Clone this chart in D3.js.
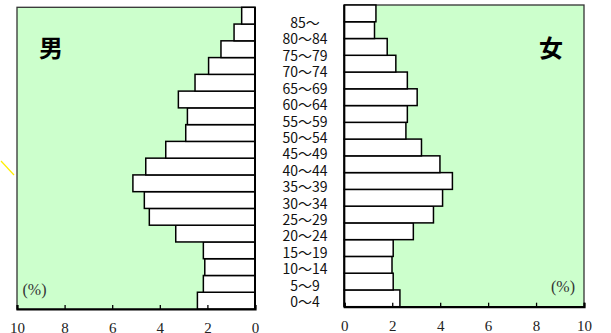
<!DOCTYPE html>
<html><head><meta charset="utf-8">
<script src="https://cdn.jsdelivr.net/npm/d3@7"></script>
<style>body{margin:0;background:#fff}svg{display:block}</style>
</head><body>
<svg id="c" width="611" height="333"></svg>
<script>
const ages = ["0～4","5～9","10～14","15～19","20～24","25～29","30～34","35～39","40～44","45～49","50～54","55～59","60～64","65～69","70～74","75～79","80～84","85～"];
const male = [2.42,2.17,2.11,2.17,3.33,4.44,4.65,5.13,4.59,3.75,2.91,2.84,3.22,2.52,1.95,1.43,0.88,0.56];
const female = [2.32,2.04,1.99,2.04,2.88,3.72,4.10,4.51,3.99,3.22,2.57,2.63,3.04,2.63,2.15,1.79,1.26,1.32];
const tickValues = [0,2,4,6,8,10];

const svg = d3.select("#c");
const green = "#ccffcc";
const serif = "'Liberation Serif','DejaVu Serif',serif";

// decorative yellow stroke
svg.append("line").attr("x1",1).attr("y1",161).attr("x2",14).attr("y2",175)
  .attr("stroke","#ffee00").attr("stroke-width",1.2);

function panel(opts){
  const {x0,x1,y0,y1,values,flip,label,labelX,pctX,pctY,tickBase} = opts;
  const x = d3.scaleLinear().domain(flip?[10,0]:[0,10]).range([x0,x1]);
  const y = d3.scaleBand().domain(ages.slice().reverse()).range([y0,y1]).padding(0);
  const g = svg.append("g");
  g.append("rect").attr("x",x0).attr("y",y0).attr("width",x1-x0).attr("height",y1-y0)
    .attr("fill",green).attr("stroke","#333").attr("stroke-width",1.3);
  g.selectAll("rect.bar").data(ages).join("rect").attr("class","bar")
    .attr("x",(d,i)=>flip? x(values[i]) : x(0))
    .attr("width",(d,i)=>Math.abs(x(values[i])-x(0)))
    .attr("y",d=>y(d)).attr("height",y.bandwidth())
    .attr("fill","#fff").attr("stroke","#000").attr("stroke-width",1.5);
  g.append("line").attr("x1",x(0)).attr("x2",x(0)).attr("y1",y0).attr("y2",y1)
    .attr("stroke","#000").attr("stroke-width",2);
  const ax = d3.axisBottom(x).tickValues(tickValues).tickSize(-4).tickFormat(d3.format("d"));
  const axg = g.append("g").attr("transform",`translate(0,${y1})`).call(ax);
  axg.attr("font-family",serif).attr("font-size",15);
  axg.select(".domain").attr("stroke","#000").attr("stroke-width",2.2);
  axg.selectAll(".tick line").attr("stroke","#000").attr("stroke-width",1.3);
  axg.selectAll(".tick text").attr("fill","#222").attr("y",tickBase-y1).attr("dy",0);
  g.append("text").attr("x",labelX).attr("y",57).attr("text-anchor","middle")
    .attr("font-family","'Noto Sans CJK JP',sans-serif").attr("font-weight","bold")
    .attr("font-size",24).attr("fill","#000").text(label);
  g.append("text").attr("x",pctX).attr("y",pctY).attr("text-anchor","middle")
    .attr("font-family",serif).attr("font-size",16).attr("fill","#333").text("(%)");
}

panel({x0:17,x1:255,y0:7.3,y1:309,values:male,flip:true,label:"男",labelX:51,pctX:34.5,pctY:294.5,tickBase:333});
panel({x0:344.3,x1:584,y0:5,y1:306.7,values:female,flip:false,label:"女",labelX:551,pctX:563,pctY:291.5,tickBase:331});

// age labels
const ly = d3.scalePoint().domain(ages.slice().reverse()).range([23,302]);
svg.append("g").selectAll("text").data(ages).join("text")
  .attr("x",305).attr("y",d=>ly(d)).attr("dy","0.36em").attr("text-anchor","middle")
  .attr("font-family","'Liberation Sans Narrow','Noto Sans CJK JP',sans-serif")
  .attr("font-size",14).attr("fill","#111").text(d=>d);
</script>
</body></html>
